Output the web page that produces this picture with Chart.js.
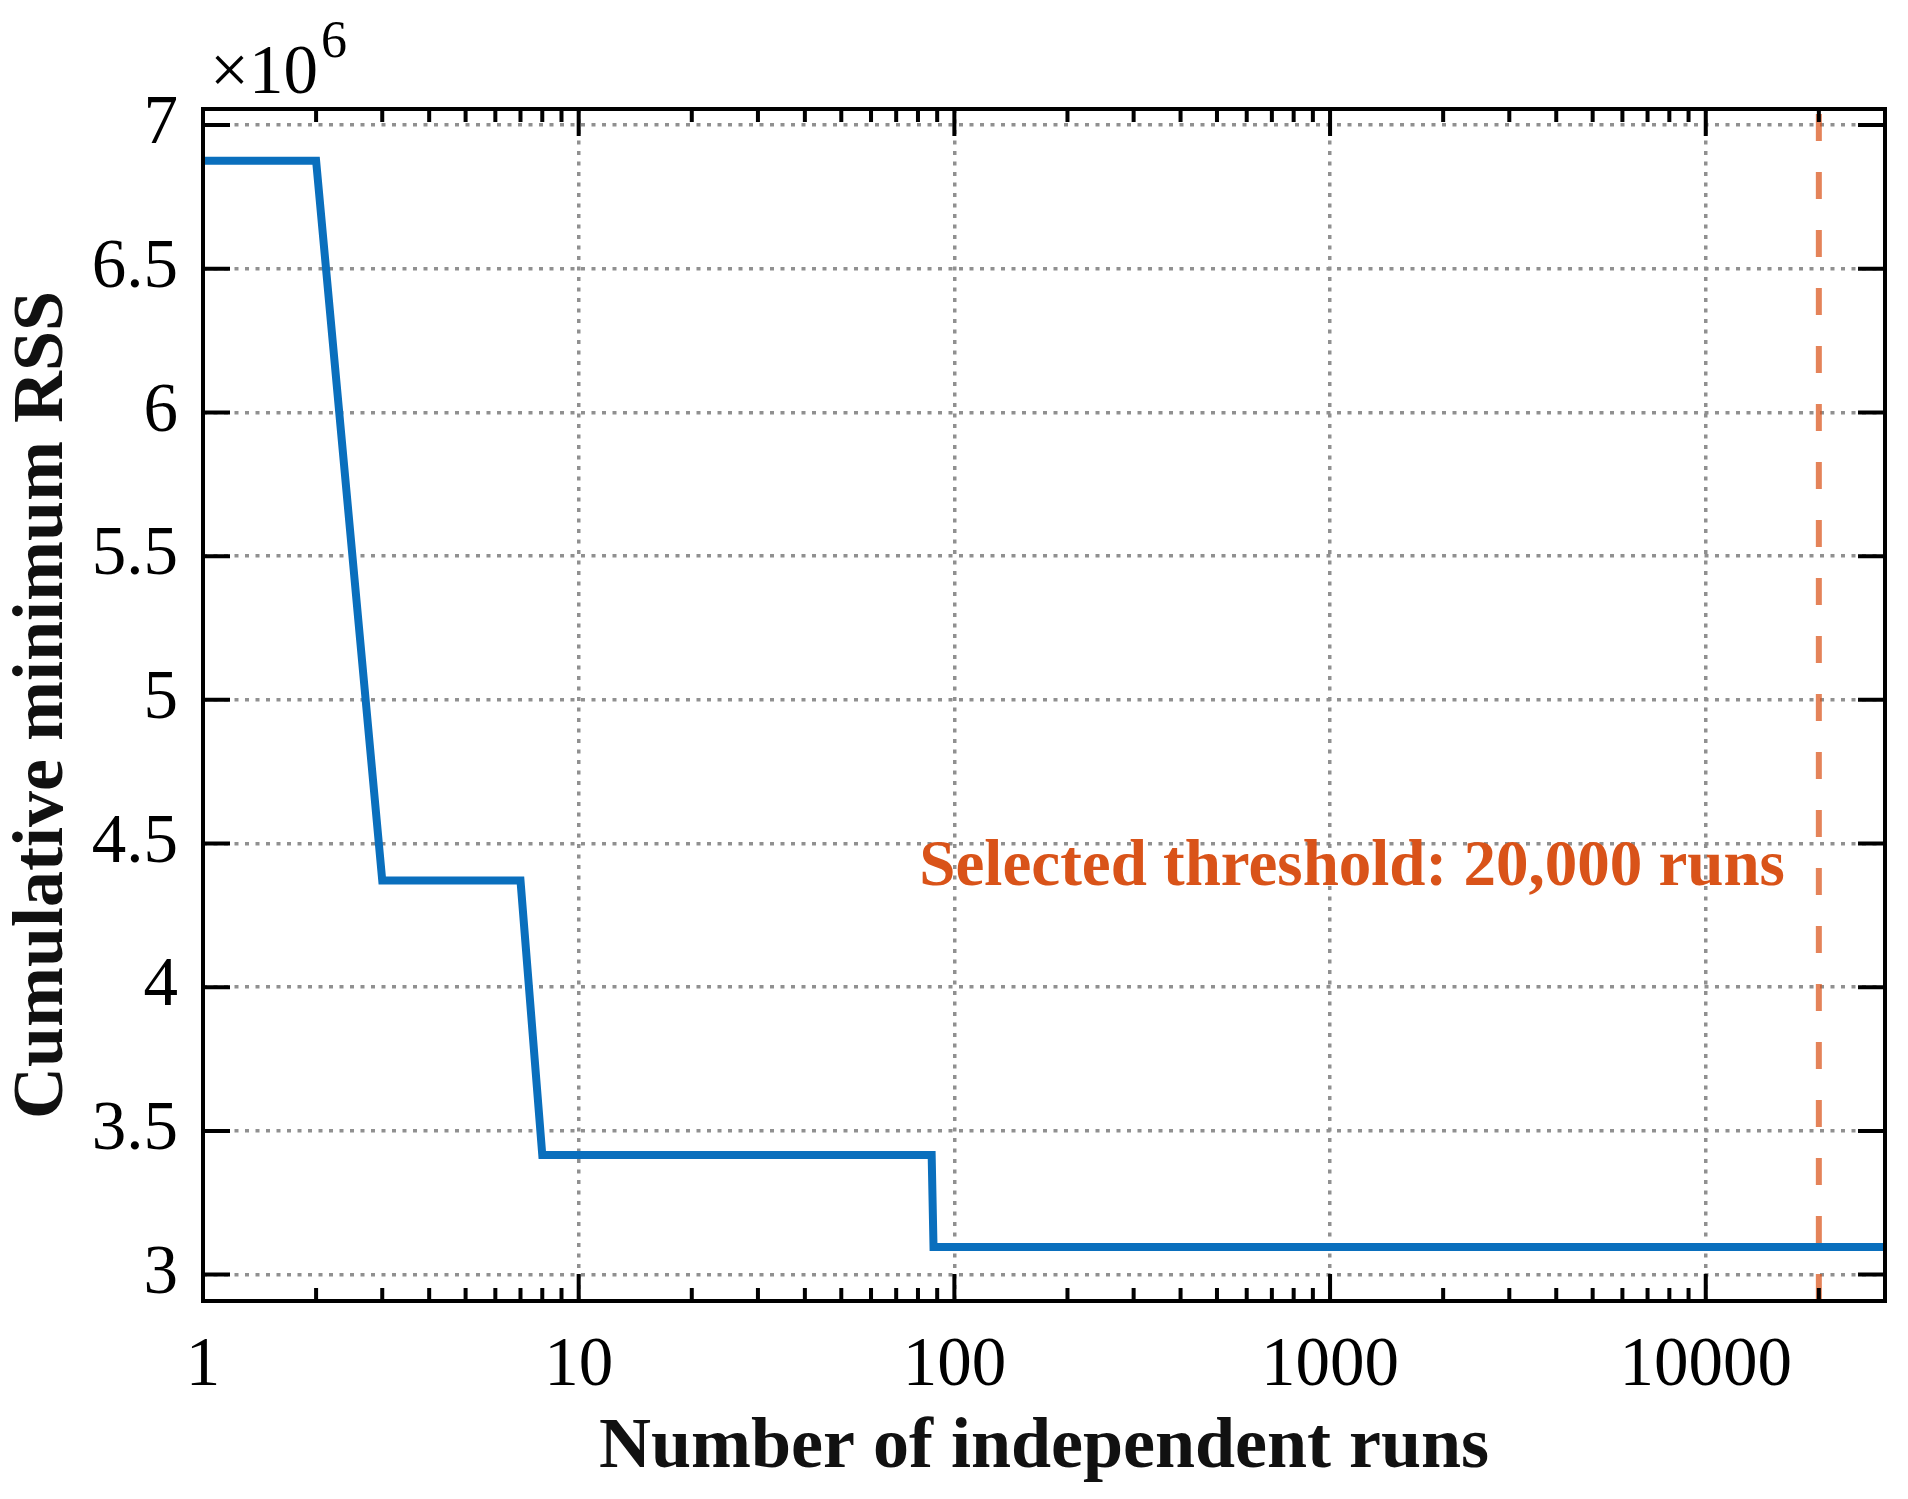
<!DOCTYPE html>
<html>
<head>
<meta charset="utf-8">
<title>Cumulative minimum RSS</title>
<script src="https://cdn.jsdelivr.net/npm/chart.js@4.4.1/dist/chart.umd.min.js"></script>
<style>
  html, body { margin: 0; padding: 0; background: #fff; }
  canvas { display: block; }
</style>
</head>
<body>
<canvas id="rssChart" width="1908" height="1499"></canvas>
<script>
// step curve of the running minimum (values in units of 10^6)
const runs = [1, 2, 3, 7, 8, 87, 88, 30000];
const minRss = [6.876, 6.876, 4.371, 4.371, 3.416, 3.416, 3.096, 3.096];

const xTickValues = [1, 10, 100, 1000, 10000];
const xTickLabels = ['1', '10', '100', '1000', '10000'];
const yTickValues = [3, 3.5, 4, 4.5, 5, 5.5, 6, 6.5, 7];
const yTickLabels = ['3', '3.5', '4', '4.5', '5', '5.5', '6', '6.5', '7'];

const xMin = 1, xMax = 30000;
const yMin = 2.908, yMax = 7.056;

const thresholdRuns = 20000;
const thresholdText = 'Selected threshold: 20,000 runs';
const thresholdTextY = 4.356;

const serif = '"Liberation Serif", "Times New Roman", serif';
const blue = '#0a6fbd';
const orange = '#D95319';
const gridGray = '#909090';

// MATLAB style box with inward ticks, exponent and annotation
const axesBox = {
    id: 'axesBox',
    afterDatasetsDraw(chart) {
        const { ctx, chartArea: a, scales: { x, y } } = chart;
        ctx.save();
        ctx.strokeStyle = '#000';
        ctx.lineWidth = 4;
        ctx.beginPath();
        yTickValues.forEach(v => {
            const py = y.getPixelForValue(v);
            ctx.moveTo(a.left, py); ctx.lineTo(a.left + 27, py);
            ctx.moveTo(a.right, py); ctx.lineTo(a.right - 27, py);
        });
        for (let d = 1; d <= xMax; d *= 10) {
            for (let k = 1; k < 10; k++) {
                const v = k * d;
                if (v > xMax) break;
                const px = x.getPixelForValue(v);
                const len = k === 1 ? 27 : 13;
                ctx.moveTo(px, a.bottom); ctx.lineTo(px, a.bottom - len);
                ctx.moveTo(px, a.top); ctx.lineTo(px, a.top + len);
            }
        }
        ctx.stroke();

        ctx.lineWidth = 4;
        ctx.strokeRect(a.left, a.top, a.right - a.left, a.bottom - a.top);

        // exponent label
        ctx.fillStyle = '#000';
        ctx.textAlign = 'left';
        ctx.textBaseline = 'alphabetic';
        ctx.font = '69px ' + serif;
        ctx.fillText('\u00d710', 210, 93);
        const w = ctx.measureText('\u00d710').width;
        ctx.font = '52px ' + serif;
        ctx.fillText('6', 210 + w + 3, 57);

        // threshold annotation
        ctx.fillStyle = orange;
        ctx.font = 'bold 65px ' + serif;
        ctx.textAlign = 'right';
        ctx.fillText(thresholdText, x.getPixelForValue(thresholdRuns) - 34, y.getPixelForValue(thresholdTextY));
        ctx.restore();
    }
};

const curve = runs.map((r, i) => ({ x: r, y: minRss[i] }));
const thresholdLine = [{ x: thresholdRuns, y: yMin }, { x: thresholdRuns, y: yMax }];

new Chart(document.getElementById('rssChart'), {
    type: 'line',
    data: {
        datasets: [
            {
                data: thresholdLine,
                borderColor: 'rgba(217, 83, 25, 0.72)',
                borderWidth: 6,
                borderDash: [27, 31],
                pointRadius: 0,
                tension: 0,
                order: 2
            },
            {
                data: curve,
                borderColor: blue,
                borderWidth: 8,
                pointRadius: 0,
                tension: 0,
                order: 1
            }
        ]
    },
    options: {
        responsive: false,
        devicePixelRatio: 1,
        animation: false,
        layout: { padding: { left: 0, top: 109, right: 23, bottom: 0 } },
        plugins: {
            legend: { display: false },
            tooltip: { enabled: false }
        },
        scales: {
            x: {
                type: 'logarithmic',
                min: xMin,
                max: xMax,
                afterBuildTicks: s => { s.ticks = xTickValues.map(v => ({ value: v })); },
                afterFit: s => { s.height = 198; },
                ticks: {
                    callback: (v, i) => xTickLabels[i],
                    color: '#000',
                    padding: 24,
                    maxRotation: 0,
                    autoSkip: false,
                    font: { family: serif, size: 69, lineHeight: 1.2 }
                },
                grid: { color: gridGray, lineWidth: 3.5, drawTicks: false },
                border: { display: false, dash: [4, 6.5] },
                title: {
                    display: true,
                    text: 'Number of independent runs',
                    color: '#111',
                    padding: { top: 0, bottom: 7 },
                    font: { family: serif, size: 72, weight: 'bold', lineHeight: 1.2 }
                }
            },
            y: {
                type: 'linear',
                min: yMin,
                max: yMax,
                afterBuildTicks: s => { s.ticks = yTickValues.map(v => ({ value: v })); },
                afterFit: s => { s.width = 203; },
                ticks: {
                    callback: (v, i) => yTickLabels[i],
                    color: '#000',
                    padding: 25,
                    autoSkip: false,
                    font: { family: serif, size: 69, lineHeight: 1.2 }
                },
                grid: { color: gridGray, lineWidth: 3.5, drawTicks: false },
                border: { display: false, dash: [4, 6.5] },
                title: {
                    display: true,
                    text: 'Cumulative minimum RSS',
                    color: '#111',
                    padding: { top: 0, bottom: 0 },
                    font: { family: serif, size: 72, weight: 'bold', lineHeight: 1.2 }
                }
            }
        }
    },
    plugins: [axesBox]
});
</script>
</body>
</html>
